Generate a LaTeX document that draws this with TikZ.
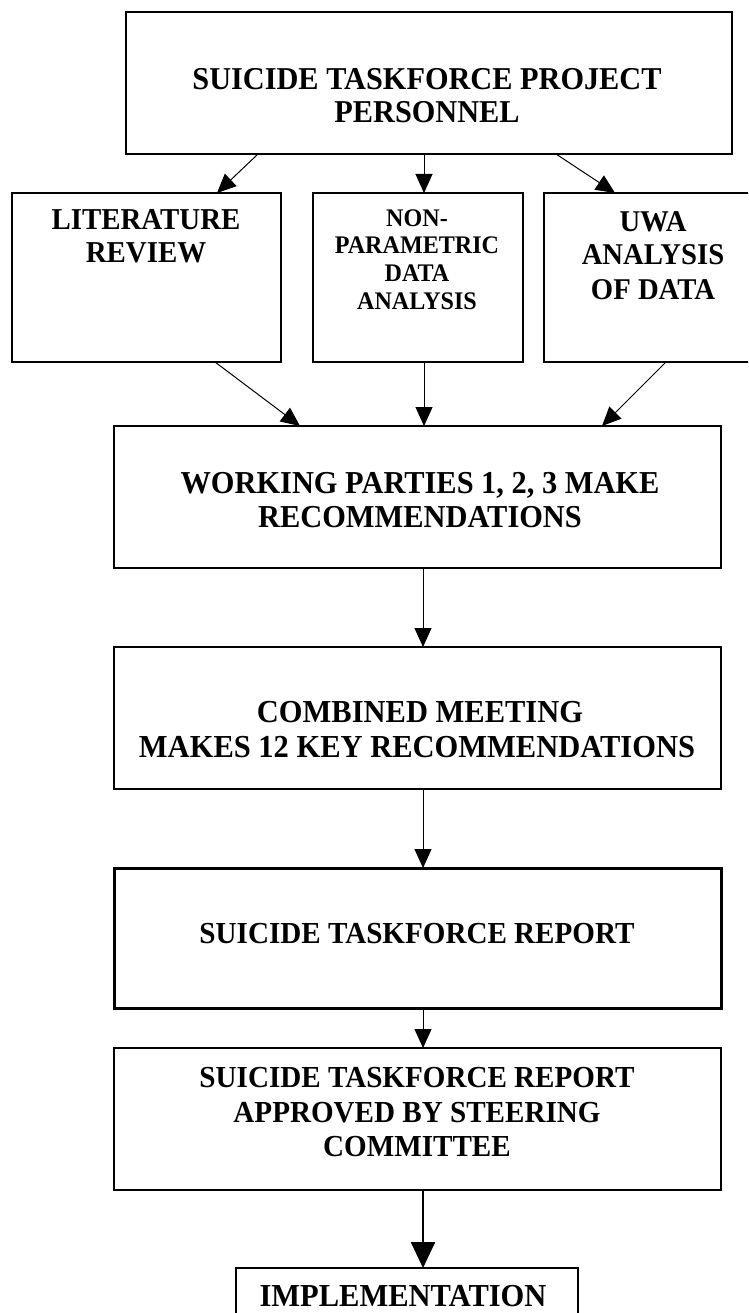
\documentclass[tikz,border=0pt]{standalone}
\usepackage{fontspec}
\usepackage{graphicx}
\setmainfont{Liberation Serif}
\usetikzlibrary{arrows.meta}
\newcommand{\txl}[3]{{\fontsize{#1}{#1}\selectfont\bfseries\scalebox{1}[#2]{#3}}}
\begin{document}
\begin{tikzpicture}[x=1pt,y=-1pt,
  box/.style={draw, line width=1.2pt, inner sep=0pt, outer sep=0pt},
  thickbox/.style={draw, line width=3pt, inner sep=0pt, outer sep=0pt},
  txt/.style={anchor=base, inner sep=0pt, outer sep=0pt},
  arr/.style={-{Triangle[length=19pt,width=17pt]}, line width=1pt},
  thickarr/.style={-{Triangle[length=26pt,width=24pt]}, line width=2.5pt}]
\useasboundingbox (0,0) rectangle (748,1313);
\clip (0,0) rectangle (748,1313);
\fill[white] (0,0) rectangle (748,1313);
% boxes
\node[box, minimum width=606pt, minimum height=142pt] (top) at (429,83) {};
\node[box, minimum width=269pt, minimum height=169pt] (lit) at (146.5,277.5) {};
\node[box, minimum width=210pt, minimum height=169pt] (np) at (418,277.5) {};
\node[box, minimum width=218pt, minimum height=169pt] (uwa) at (653,277.5) {};
\node[box, minimum width=607pt, minimum height=142pt] (wp) at (417.5,497) {};
\node[box, minimum width=607pt, minimum height=142pt] (cm) at (417.5,718) {};
\node[thickbox, minimum width=607pt, minimum height=140pt] (rep) at (417.5,938) {};
\node[box, minimum width=607pt, minimum height=142pt] (app) at (417.5,1119) {};
\node[box, minimum width=342pt, minimum height=100pt] (imp) at (407,1318) {};
% texts
\node[txt] (t1a) at (427,90) {\txl{30.3}{1.05}{SUICIDE TASKFORCE PROJECT}};
\node[txt] (t1b) at (427,123) {\txl{30.3}{1.05}{PERSONNEL}};
\node[txt] (t2a) at (146,230) {\txl{28.9}{1.05}{LITERATURE}};
\node[txt] (t2b) at (146,263) {\txl{28.9}{1.05}{REVIEW}};
\node[txt] (t3a) at (417,227) {\txl{24.1}{1.05}{NON-}};
\node[txt] (t3b) at (417,254) {\txl{24.1}{1.05}{PARAMETRIC}};
\node[txt] (t3c) at (417,282) {\txl{24.1}{1.05}{DATA}};
\node[txt] (t3d) at (417,309) {\txl{24.1}{1.05}{ANALYSIS}};
\node[txt] (t4a) at (653,232) {\txl{28.7}{1.05}{UWA}};
\node[txt] (t4b) at (653,265) {\txl{28.7}{1.05}{ANALYSIS}};
\node[txt] (t4c) at (653,299) {\txl{28.7}{1.05}{OF DATA}};
\node[txt] (t5a) at (420,493) {\txl{30.4}{1.05}{WORKING PARTIES 1, 2, 3 MAKE}};
\node[txt] (t5b) at (420,527) {\txl{30.4}{1.05}{RECOMMENDATIONS}};
\node[txt] (t6a) at (420,722) {\txl{30.5}{1.05}{COMBINED MEETING}};
\node[txt] (t6b) at (417,757) {\txl{30.5}{1.05}{MAKES 12 KEY RECOMMENDATIONS}};
\node[txt] (t7) at (417,943) {\txl{29.1}{1.05}{SUICIDE TASKFORCE REPORT}};
\node[txt] (t8a) at (417,1087) {\txl{29.1}{1.05}{SUICIDE TASKFORCE REPORT}};
\node[txt] (t8b) at (417,1122) {\txl{29.1}{1.05}{APPROVED BY STEERING}};
\node[txt] (t8c) at (417,1156) {\txl{29.1}{1.05}{COMMITTEE}};
\node[txt] (t9) at (403,1306) {\txl{30.5}{1.05}{IMPLEMENTATION}};
% connectors
\draw[arr] ([xshift=132pt]top.south west) -- ([xshift=205pt]lit.north west);
\draw[arr] ([xshift=298pt]top.south west) -- ([xshift=111pt]np.north west);
\draw[arr] ([xshift=430pt]top.south west) -- ([xshift=71pt]uwa.north west);
\draw[arr] ([xshift=203pt]lit.south west) -- ([xshift=186pt]wp.north west);
\draw[arr] ([xshift=111pt]np.south west) -- ([xshift=310pt]wp.north west);
\draw[arr] ([xshift=122pt]uwa.south west) -- ([xshift=488pt]wp.north west);
\draw[arr] ([xshift=309pt]wp.south west) -- ([xshift=309pt]cm.north west);
\draw[arr] ([xshift=309pt]cm.south west) -- ([xshift=309pt]rep.north west);
\draw[arr] ([xshift=309pt]rep.south west) -- ([xshift=309pt]app.north west);
\draw[thickarr] ([xshift=309pt]app.south west) -- ([xshift=187pt]imp.north west);
\end{tikzpicture}
\end{document}
